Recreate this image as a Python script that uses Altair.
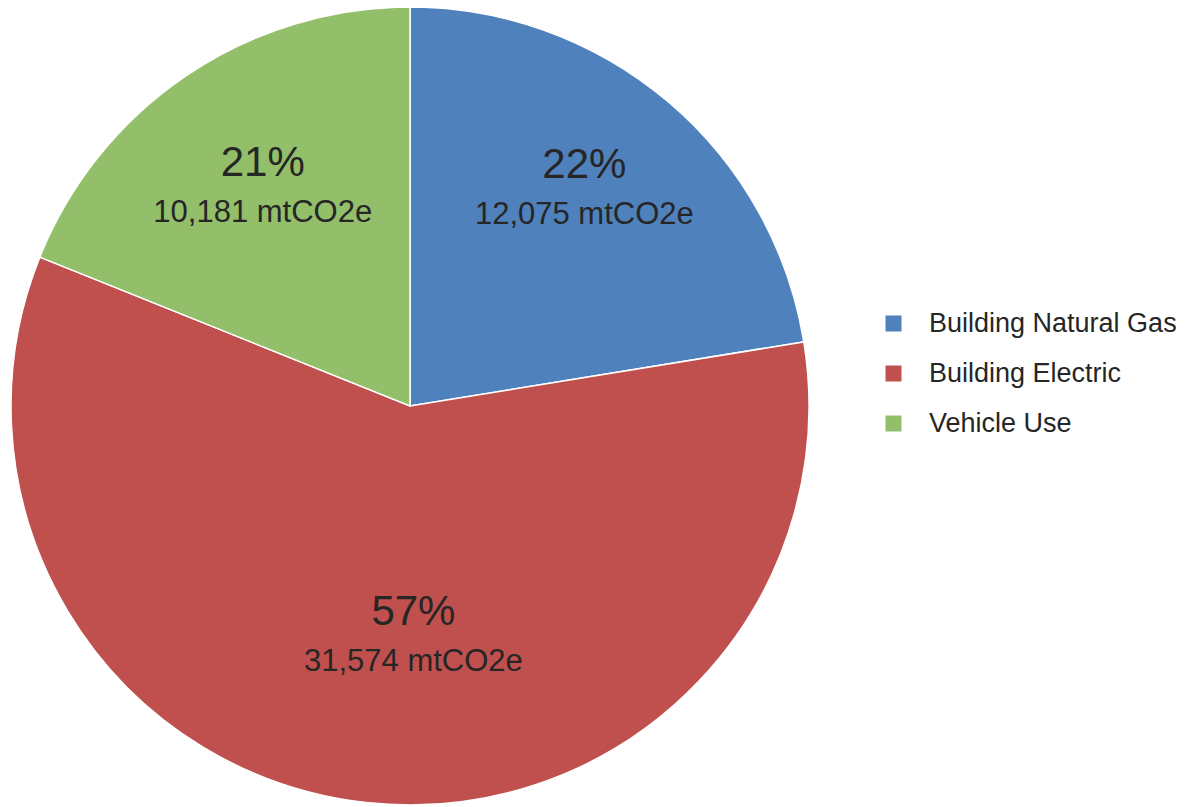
import altair as alt
import pandas as pd

categories = ["Building Natural Gas", "Building Electric", "Vehicle Use"]
values = [12075, 31574, 10181]
pct_labels = ["22%", "57%", "21%"]
value_labels = ["12,075 mtCO2e", "31,574 mtCO2e", "10,181 mtCO2e"]
colors = ["#4F81BD", "#C0504D", "#93BF6A"]

df = pd.DataFrame({
    "category": categories,
    "value": values,
    "pct": pct_labels,
    "vlabel": value_labels,
    "order": list(range(len(categories))),
})

total = float(sum(values))
CX, CY, R = 402, 398, 399

theta_scale = alt.Scale(domain=[0, total], range=[0, 6.283185307179586], zero=True)

arc = alt.Chart(df).mark_arc(
    outerRadius=R, stroke="white", strokeWidth=1.5, x=CX, y=CY
).encode(
    theta=alt.Theta("value:Q", stack=True),
    order=alt.Order("order:Q"),
    color=alt.Color(
        "category:N",
        scale=alt.Scale(domain=categories, range=colors),
        sort=categories,
        legend=alt.Legend(
            title=None,
            orient="none",
            legendX=872,
            legendY=302,
            labelFont="Liberation Sans",
            labelFontSize=27,
            labelColor="#262626",
            labelLimit=0,
            symbolType="square",
            symbolSize=256,
            symbolStrokeWidth=0,
            rowPadding=22,
            labelOffset=22,
        ),
    ),
)

# compute mid-angles of slices once, on the full data
base_txt = alt.Chart(df).transform_window(
    cum="sum(value)", sort=[alt.SortField("order")], frame=[None, 0]
).transform_calculate(
    mid="datum.cum - datum.value / 2"
)

def labels(cat, radius, dx):
    b = base_txt.transform_filter(alt.datum.category == cat).encode(
        theta=alt.Theta("mid:Q", scale=theta_scale, stack=None)
    )
    p = b.mark_text(radius=radius, dx=dx, dy=-25, x=CX, y=CY, font="Liberation Sans",
                    fontSize=42, color="#262626").encode(text="pct:N")
    v = b.mark_text(radius=radius, dx=dx, dy=25, x=CX, y=CY, font="Liberation Sans",
                    fontSize=31, color="#262626").encode(text="vlabel:N")
    return p + v

l1 = labels("Building Natural Gas", 283, -9)
l2 = labels("Building Electric", 232, 29)
l3 = labels("Vehicle Use", 263, 0)

chart = alt.layer(arc, l1, l2, l3).properties(
    width=1172, height=799, padding=0,
    autosize=alt.AutoSizeParams(type="none"),
).configure_view(stroke=None)

chart.save("out.html", embed_options={"renderer": "svg", "actions": False})
